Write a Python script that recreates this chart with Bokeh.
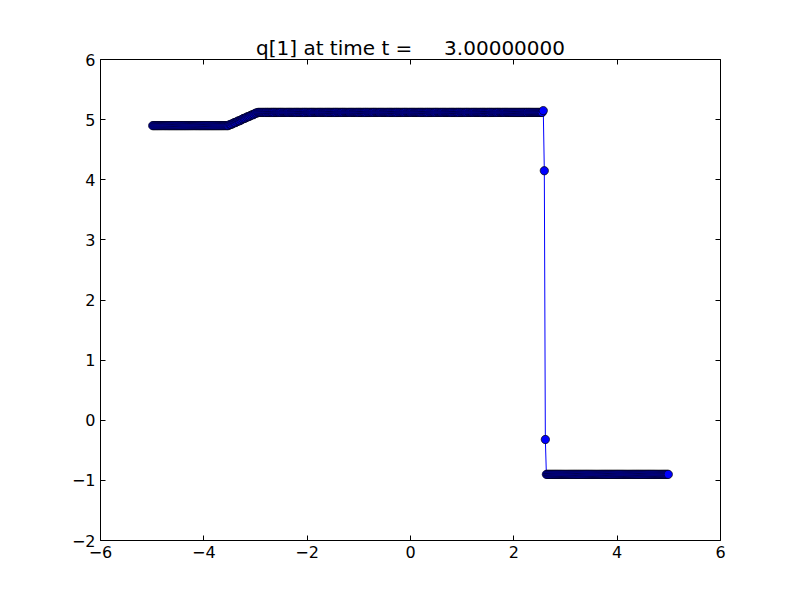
from bokeh.plotting import figure
from bokeh.models import Range1d, FixedTicker, LinearAxis, CustomJSTickFormatter
from bokeh.embed import file_html
from bokeh.resources import INLINE

# cell centres of the grid (-5 .. 5, 500 cells)
x_cells = [
    -4.99,-4.97,-4.95,-4.93,-4.91,-4.89,-4.87,-4.85,-4.83,-4.81,-4.79,-4.77,-4.75,-4.73,-4.71,-4.69,-4.67,-4.65,-4.63,-4.61,-4.59,-4.57,-4.55,-4.53,-4.51,
    -4.49,-4.47,-4.45,-4.43,-4.41,-4.39,-4.37,-4.35,-4.33,-4.31,-4.29,-4.27,-4.25,-4.23,-4.21,-4.19,-4.17,-4.15,-4.13,-4.11,-4.09,-4.07,-4.05,-4.03,-4.01,
    -3.99,-3.97,-3.95,-3.93,-3.91,-3.89,-3.87,-3.85,-3.83,-3.81,-3.79,-3.77,-3.75,-3.73,-3.71,-3.69,-3.67,-3.65,-3.63,-3.61,-3.59,-3.57,-3.55,-3.53,-3.51,
    -3.49,-3.47,-3.45,-3.43,-3.41,-3.39,-3.37,-3.35,-3.33,-3.31,-3.29,-3.27,-3.25,-3.23,-3.21,-3.19,-3.17,-3.15,-3.13,-3.11,-3.09,-3.07,-3.05,-3.03,-3.01,
    -2.99,-2.97,-2.95,-2.93,-2.91,-2.89,-2.87,-2.85,-2.83,-2.81,-2.79,-2.77,-2.75,-2.73,-2.71,-2.69,-2.67,-2.65,-2.63,-2.61,-2.59,-2.57,-2.55,-2.53,-2.51,
    -2.49,-2.47,-2.45,-2.43,-2.41,-2.39,-2.37,-2.35,-2.33,-2.31,-2.29,-2.27,-2.25,-2.23,-2.21,-2.19,-2.17,-2.15,-2.13,-2.11,-2.09,-2.07,-2.05,-2.03,-2.01,
    -1.99,-1.97,-1.95,-1.93,-1.91,-1.89,-1.87,-1.85,-1.83,-1.81,-1.79,-1.77,-1.75,-1.73,-1.71,-1.69,-1.67,-1.65,-1.63,-1.61,-1.59,-1.57,-1.55,-1.53,-1.51,
    -1.49,-1.47,-1.45,-1.43,-1.41,-1.39,-1.37,-1.35,-1.33,-1.31,-1.29,-1.27,-1.25,-1.23,-1.21,-1.19,-1.17,-1.15,-1.13,-1.11,-1.09,-1.07,-1.05,-1.03,-1.01,
    -0.99,-0.97,-0.95,-0.93,-0.91,-0.89,-0.87,-0.85,-0.83,-0.81,-0.79,-0.77,-0.75,-0.73,-0.71,-0.69,-0.67,-0.65,-0.63,-0.61,-0.59,-0.57,-0.55,-0.53,-0.51,
    -0.49,-0.47,-0.45,-0.43,-0.41,-0.39,-0.37,-0.35,-0.33,-0.31,-0.29,-0.27,-0.25,-0.23,-0.21,-0.19,-0.17,-0.15,-0.13,-0.11,-0.09,-0.07,-0.05,-0.03,-0.01,
    0.01,0.03,0.05,0.07,0.09,0.11,0.13,0.15,0.17,0.19,0.21,0.23,0.25,0.27,0.29,0.31,0.33,0.35,0.37,0.39,0.41,0.43,0.45,0.47,0.49,
    0.51,0.53,0.55,0.57,0.59,0.61,0.63,0.65,0.67,0.69,0.71,0.73,0.75,0.77,0.79,0.81,0.83,0.85,0.87,0.89,0.91,0.93,0.95,0.97,0.99,
    1.01,1.03,1.05,1.07,1.09,1.11,1.13,1.15,1.17,1.19,1.21,1.23,1.25,1.27,1.29,1.31,1.33,1.35,1.37,1.39,1.41,1.43,1.45,1.47,1.49,
    1.51,1.53,1.55,1.57,1.59,1.61,1.63,1.65,1.67,1.69,1.71,1.73,1.75,1.77,1.79,1.81,1.83,1.85,1.87,1.89,1.91,1.93,1.95,1.97,1.99,
    2.01,2.03,2.05,2.07,2.09,2.11,2.13,2.15,2.17,2.19,2.21,2.23,2.25,2.27,2.29,2.31,2.33,2.35,2.37,2.39,2.41,2.43,2.45,2.47,2.49,
    2.51,2.53,2.55,2.57,2.59,2.61,2.63,2.65,2.67,2.69,2.71,2.73,2.75,2.77,2.79,2.81,2.83,2.85,2.87,2.89,2.91,2.93,2.95,2.97,2.99,
    3.01,3.03,3.05,3.07,3.09,3.11,3.13,3.15,3.17,3.19,3.21,3.23,3.25,3.27,3.29,3.31,3.33,3.35,3.37,3.39,3.41,3.43,3.45,3.47,3.49,
    3.51,3.53,3.55,3.57,3.59,3.61,3.63,3.65,3.67,3.69,3.71,3.73,3.75,3.77,3.79,3.81,3.83,3.85,3.87,3.89,3.91,3.93,3.95,3.97,3.99,
    4.01,4.03,4.05,4.07,4.09,4.11,4.13,4.15,4.17,4.19,4.21,4.23,4.25,4.27,4.29,4.31,4.33,4.35,4.37,4.39,4.41,4.43,4.45,4.47,4.49,
    4.51,4.53,4.55,4.57,4.59,4.61,4.63,4.65,4.67,4.69,4.71,4.73,4.75,4.77,4.79,4.81,4.83,4.85,4.87,4.89,4.91,4.93,4.95,4.97,4.99,
]

# q[1] value in each cell
q1_values = [
    4.90,4.90,4.90,4.90,4.90,4.90,4.90,4.90,4.90,4.90,4.90,4.90,4.90,4.90,4.90,4.90,4.90,4.90,4.90,4.90,4.90,4.90,4.90,4.90,4.90,
    4.90,4.90,4.90,4.90,4.90,4.90,4.90,4.90,4.90,4.90,4.90,4.90,4.90,4.90,4.90,4.90,4.90,4.90,4.90,4.90,4.90,4.90,4.90,4.90,4.90,
    4.90,4.90,4.90,4.90,4.90,4.90,4.90,4.90,4.90,4.90,4.90,4.90,4.90,4.90,4.90,4.90,4.90,4.90,4.90,4.90,4.90,4.90,4.90,4.90,4.91,
    4.92,4.92,4.93,4.94,4.95,4.95,4.96,4.97,4.98,4.98,4.99,5.00,5.01,5.02,5.02,5.03,5.04,5.05,5.05,5.06,5.07,5.08,5.08,5.09,5.10,
    5.11,5.11,5.12,5.12,5.12,5.12,5.12,5.12,5.12,5.12,5.12,5.12,5.12,5.12,5.12,5.12,5.12,5.12,5.12,5.12,5.12,5.12,5.12,5.12,5.12,
    5.12,5.12,5.12,5.12,5.12,5.12,5.12,5.12,5.12,5.12,5.12,5.12,5.12,5.12,5.12,5.12,5.12,5.12,5.12,5.12,5.12,5.12,5.12,5.12,5.12,
    5.12,5.12,5.12,5.12,5.12,5.12,5.12,5.12,5.12,5.12,5.12,5.12,5.12,5.12,5.12,5.12,5.12,5.12,5.12,5.12,5.12,5.12,5.12,5.12,5.12,
    5.12,5.12,5.12,5.12,5.12,5.12,5.12,5.12,5.12,5.12,5.12,5.12,5.12,5.12,5.12,5.12,5.12,5.12,5.12,5.12,5.12,5.12,5.12,5.12,5.12,
    5.12,5.12,5.12,5.12,5.12,5.12,5.12,5.12,5.12,5.12,5.12,5.12,5.12,5.12,5.12,5.12,5.12,5.12,5.12,5.12,5.12,5.12,5.12,5.12,5.12,
    5.12,5.12,5.12,5.12,5.12,5.12,5.12,5.12,5.12,5.12,5.12,5.12,5.12,5.12,5.12,5.12,5.12,5.12,5.12,5.12,5.12,5.12,5.12,5.12,5.12,
    5.12,5.12,5.12,5.12,5.12,5.12,5.12,5.12,5.12,5.12,5.12,5.12,5.12,5.12,5.12,5.12,5.12,5.12,5.12,5.12,5.12,5.12,5.12,5.12,5.12,
    5.12,5.12,5.12,5.12,5.12,5.12,5.12,5.12,5.12,5.12,5.12,5.12,5.12,5.12,5.12,5.12,5.12,5.12,5.12,5.12,5.12,5.12,5.12,5.12,5.12,
    5.12,5.12,5.12,5.12,5.12,5.12,5.12,5.12,5.12,5.12,5.12,5.12,5.12,5.12,5.12,5.12,5.12,5.12,5.12,5.12,5.12,5.12,5.12,5.12,5.12,
    5.12,5.12,5.12,5.12,5.12,5.12,5.12,5.12,5.12,5.12,5.12,5.12,5.12,5.12,5.12,5.12,5.12,5.12,5.12,5.12,5.12,5.12,5.12,5.12,5.12,
    5.12,5.12,5.12,5.12,5.12,5.12,5.12,5.12,5.12,5.12,5.12,5.12,5.12,5.12,5.12,5.12,5.12,5.12,5.12,5.12,5.12,5.12,5.12,5.12,5.12,
    5.12,5.12,5.12,5.15,4.15,-0.32,-0.90,-0.90,-0.90,-0.90,-0.90,-0.90,-0.90,-0.90,-0.90,-0.90,-0.90,-0.90,-0.90,-0.90,-0.90,-0.90,-0.90,-0.90,-0.90,
    -0.90,-0.90,-0.90,-0.90,-0.90,-0.90,-0.90,-0.90,-0.90,-0.90,-0.90,-0.90,-0.90,-0.90,-0.90,-0.90,-0.90,-0.90,-0.90,-0.90,-0.90,-0.90,-0.90,-0.90,-0.90,
    -0.90,-0.90,-0.90,-0.90,-0.90,-0.90,-0.90,-0.90,-0.90,-0.90,-0.90,-0.90,-0.90,-0.90,-0.90,-0.90,-0.90,-0.90,-0.90,-0.90,-0.90,-0.90,-0.90,-0.90,-0.90,
    -0.90,-0.90,-0.90,-0.90,-0.90,-0.90,-0.90,-0.90,-0.90,-0.90,-0.90,-0.90,-0.90,-0.90,-0.90,-0.90,-0.90,-0.90,-0.90,-0.90,-0.90,-0.90,-0.90,-0.90,-0.90,
    -0.90,-0.90,-0.90,-0.90,-0.90,-0.90,-0.90,-0.90,-0.90,-0.90,-0.90,-0.90,-0.90,-0.90,-0.90,-0.90,-0.90,-0.90,-0.90,-0.90,-0.90,-0.90,-0.90,-0.90,-0.90,
]

x_ticks = [-6, -4, -2, 0, 2, 4, 6]
y_ticks = [-2, -1, 0, 1, 2, 3, 4, 5, 6]
# spaces kept as non-breaking so the SVG text does not collapse them
title_text = "q[1] at time t =\u00a0\u00a0\u00a0\u00a0\u00a03.00000000"

FONT = "DejaVu Sans"

p = figure(width=784, height=584, output_backend="svg", toolbar_location=None,
           x_range=Range1d(-6, 6), y_range=Range1d(-2, 6),
           min_border_left=100, min_border_right=64, min_border_top=59, min_border_bottom=44,
           x_axis_type=None, y_axis_type=None)
p.title.text = title_text
p.title.align = "center"
p.title.text_font = FONT
p.title.text_font_size = "20px"
p.title.text_font_style = "normal"
p.title.text_color = "black"
p.title.standoff = 0
p.xgrid.visible = False
p.ygrid.visible = False
p.outline_line_color = "black"
p.outline_line_width = 1
p.background_fill_color = "white"
p.border_fill_color = "white"

fmt = CustomJSTickFormatter(code="return (tick < 0 ? '\u2212' : '') + Math.abs(tick).toString();")
blank_fmt = CustomJSTickFormatter(code="return '';")

def make_axis(ticks, show_labels):
    ax = LinearAxis(ticker=FixedTicker(ticks=ticks), formatter=fmt if show_labels else blank_fmt)
    ax.axis_line_color = None
    ax.major_tick_in = 5
    ax.major_tick_out = 0
    ax.major_tick_line_color = "black"
    ax.minor_tick_line_color = None
    ax.major_label_text_font = FONT
    ax.major_label_text_color = "black"
    ax.major_label_text_font_size = "16px"
    ax.major_label_standoff = 5 if show_labels else 0
    return ax

p.add_layout(make_axis(x_ticks, True), "below")
p.add_layout(make_axis(y_ticks, True), "left")
p.add_layout(make_axis(x_ticks, False), "above")
p.add_layout(make_axis(y_ticks, False), "right")

p.line(x_cells, q1_values, line_color="blue", line_width=1)
p.scatter(x_cells, q1_values, size=8.3, fill_color="blue", line_color="black", line_width=0.7)

open("out.html", "w").write(file_html(p, INLINE))
